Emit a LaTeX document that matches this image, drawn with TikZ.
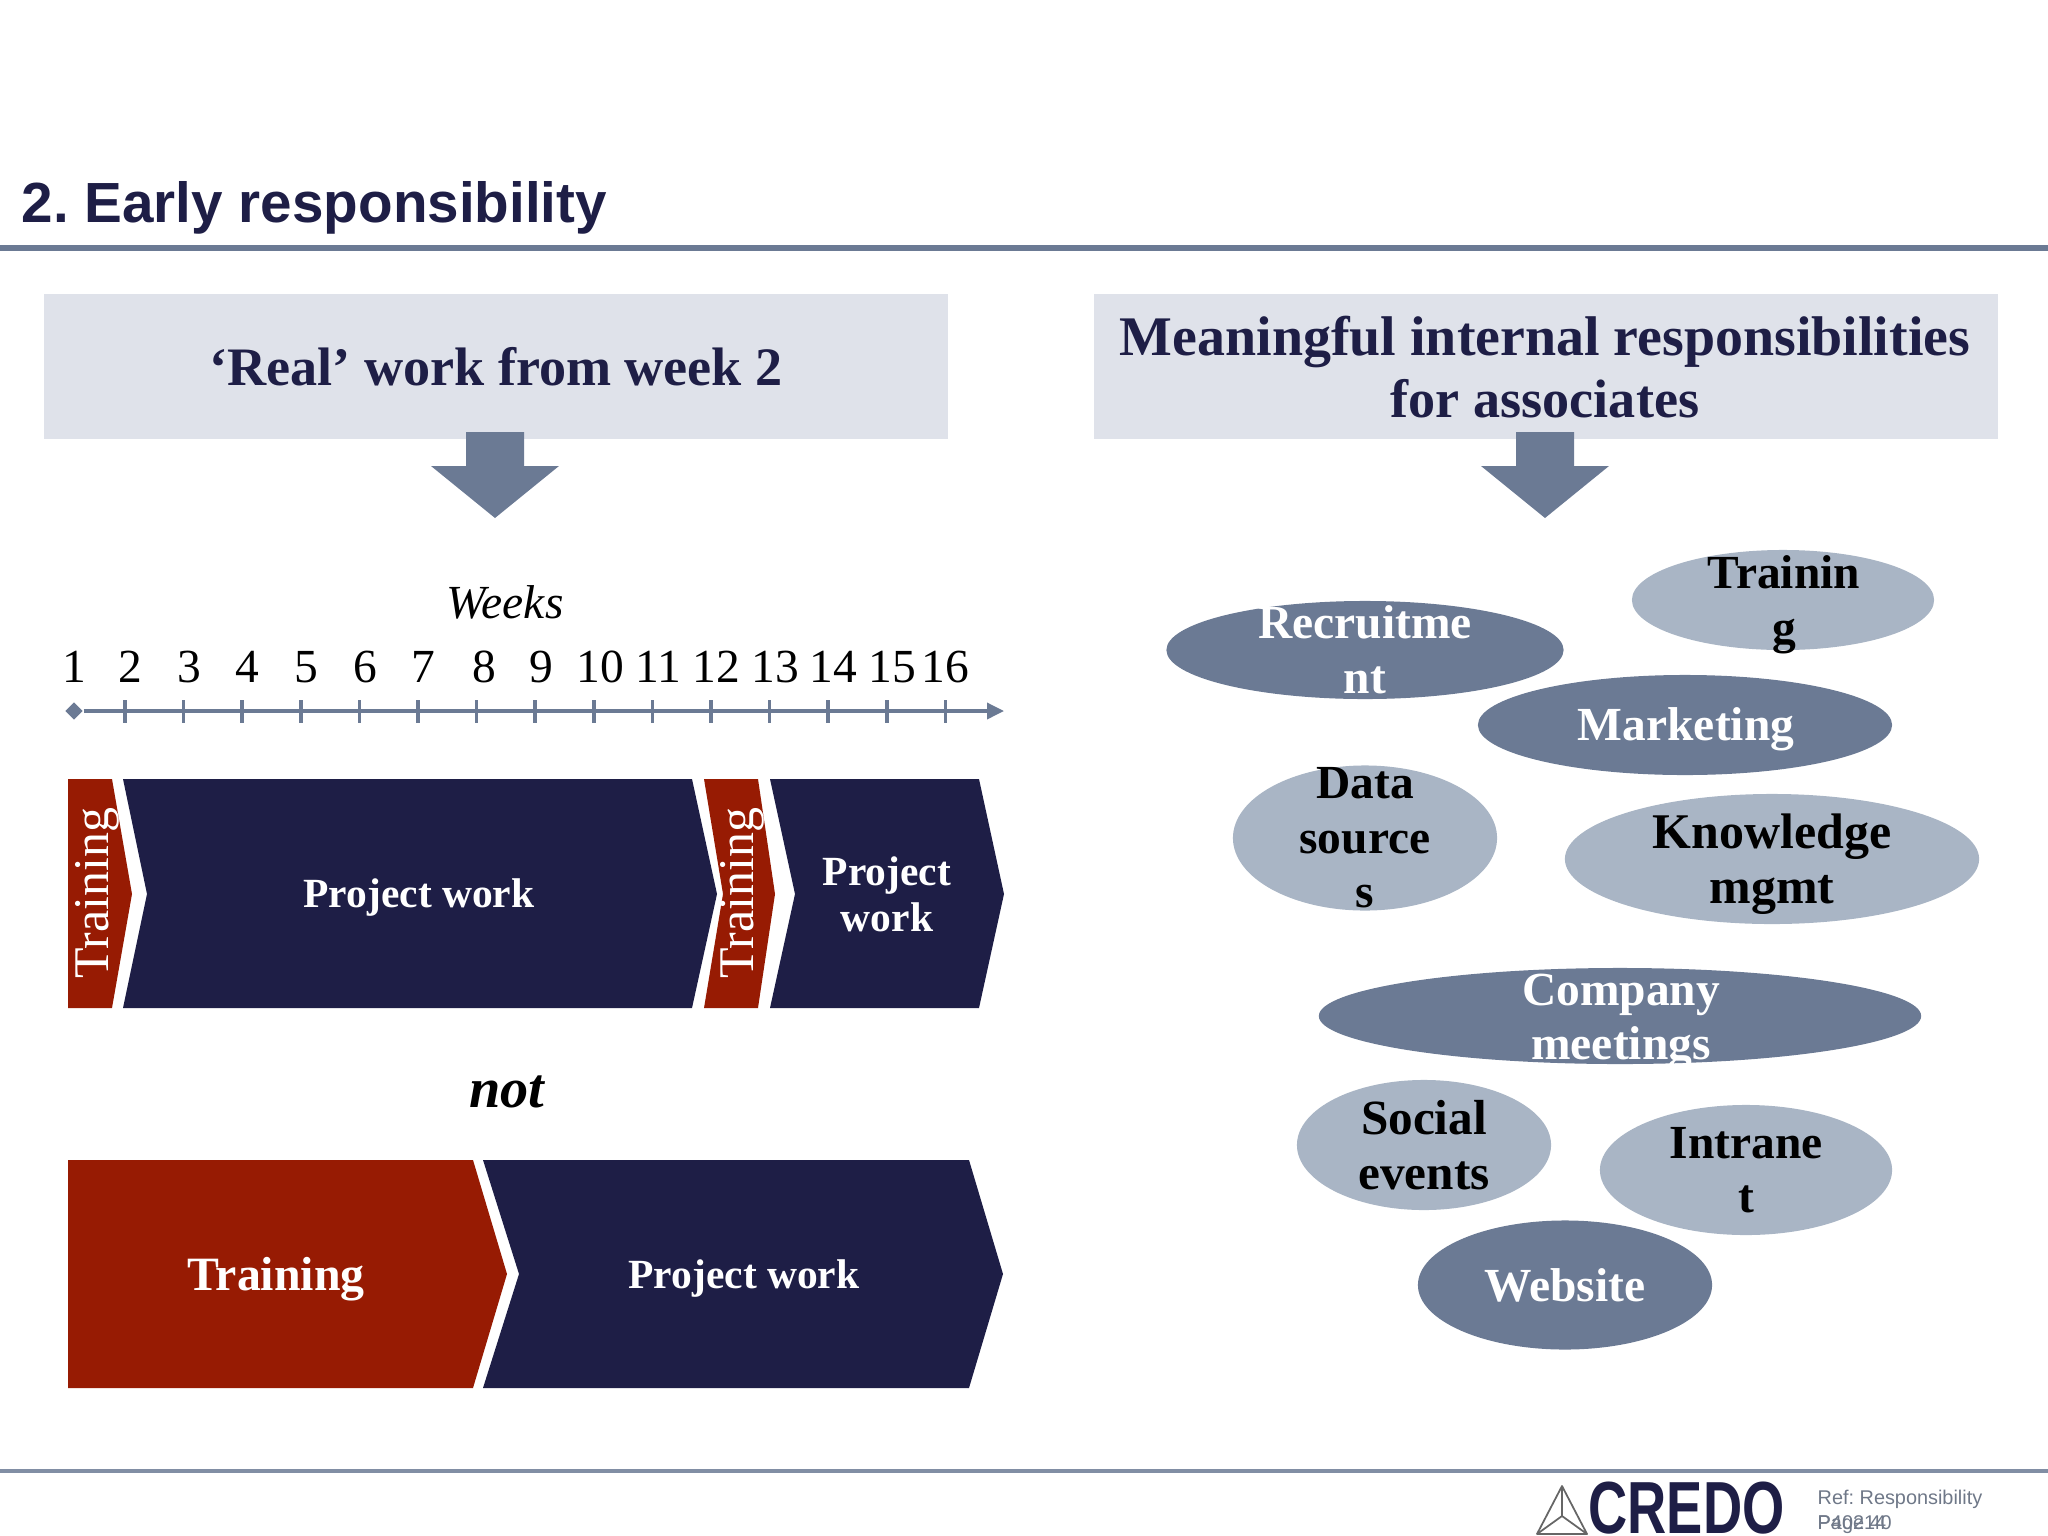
\documentclass[tikz,border=0pt]{standalone}
\usepackage{fontspec}
\setmainfont{Liberation Serif}
\setsansfont{Liberation Sans}
\usetikzlibrary{arrows.meta,shapes.geometric}
\definecolor{navy}{HTML}{1E1E46}
\definecolor{brick}{HTML}{971B03}
\definecolor{slate}{HTML}{6B7A94}
\definecolor{mist}{HTML}{A9B5C5}
\definecolor{pale}{HTML}{DFE2EA}
\definecolor{reftext}{HTML}{6F7888}
\frenchspacing
\begin{document}
\begin{tikzpicture}[x=0.01cm, y=-0.01cm,
    head/.style={font=\bfseries\fontsize{15.4}{14}\selectfont, text=navy, align=center},
    barlabel/.style={font=\bfseries\fontsize{11.8}{13}\selectfont, text=white, align=center},
    trainlabel/.style={font=\fontsize{14.2}{14}\selectfont, text=white, rotate=90},
    blobtext/.style={inner sep=0pt, font=\bfseries\fontsize{13.5}{15.5}\selectfont, align=center},
    blob/.style={ellipse, blobtext, inner sep=-.6cm},
    blobdark/.style={blob, fill=slate, text=white},
    bloblight/.style={blob, fill=mist, text=black},
    num/.style={font=\fontsize{13.5}{14}\selectfont, inner sep=0pt},
    reflabel/.style={font=\sffamily\fontsize{5.65}{6}\selectfont, text=reftext, anchor=base west, inner sep=0pt}]
    \useasboundingbox (0,0) rectangle (2048,1536);

    \node[font=\sffamily\bfseries\fontsize{16.1}{18}\selectfont, text=navy, anchor=base west, inner sep=0pt] (title) at (21,222) {2. Early responsibility};
    \draw[slate, line width=1.8pt] (0,248) -- (2048,248);
    \draw[slate!85!white, line width=.9pt] (0,1471) -- (2048,1471);

    \fill[pale] (44,294) rectangle (948,439);
    \fill[pale] (1094,294) rectangle (1998,439);
    \node[head] (realwork) at (496,367) {‘Real’ work from week 2};
    \node[head] (internal) at (1545,367) {\fontsize{15.9}{14}\selectfont Meaningful internal responsibilities\\[2.3pt]for associates};
    \foreach \c in {495, 1545}
        \fill[slate] (\c-29,432) -- (\c+29,432) -- (\c+29,466) -- (\c+64,466) -- (\c,518) -- (\c-64,466) -- (\c-29,466) -- cycle;

    \node[font=\itshape\fontsize{13.5}{14}\selectfont, inner sep=0pt] (weeks) at (505,602) {Weeks};
    \foreach \x/\n in {74/1, 130/2, 189/3, 247/4, 306/5, 365/6, 423/7, 484/8, 541/9, 600/10, 658/11, 716/12, 775/13, 833/14, 892/15, 945/16}
        \node[num] (n\n) at (\x,667) {\n};

    \node[diamond, fill=slate, inner sep=0pt, minimum size=.18cm] (axisstart) at (74,711) {};
    \coordinate (axisend) at (1004,711);
    \draw[slate, line width=1pt, -{Triangle[length=.17cm,width=.16cm]}] (axisstart) -- (axisend);
    \foreach \i in {0, 1, ..., 14}
        \draw[slate, line width=1pt] (125+58.6*\i,700) -- (125+58.6*\i,723);

    \fill[brick] (68,779) -- (112,779) -- (132,894) -- (112,1008) -- (68,1008) -- cycle;
    \fill[navy] (123,779) -- (692,779) -- (717,894) -- (692,1008) -- (123,1008) -- (147,894) -- cycle;
    \fill[brick] (704,779) -- (758,779) -- (775,894) -- (758,1008) -- (704,1008) -- (723,894) -- cycle;
    \fill[navy] (770,779) -- (979,779) -- (1004,894) -- (979,1008) -- (770,1008) -- (795,894) -- cycle;
    \node[trainlabel] (trainone) at (97,893) {Training};
    \node[barlabel] (projectone) at (419,898) {Project work};
    \node[trainlabel] (traintwo) at (742,893) {Training};
    \node[barlabel] (projecttwo) at (887,894) {Project\\work};

    \node[font=\bfseries\itshape\fontsize{16}{16}\selectfont, inner sep=0pt] (not) at (507,1092) {not};

    \fill[brick] (68,1160) -- (473,1160) -- (507,1274) -- (473,1388) -- (68,1388) -- cycle;
    \fill[navy] (483,1160) -- (969,1160) -- (1003,1274) -- (969,1388) -- (483,1388) -- (519,1274) -- cycle;
    \node[barlabel, font=\bfseries\fontsize{13.6}{14}\selectfont] (trainthree) at (276,1279) {Training};
    \node[barlabel] (projectthree) at (744,1279) {Project work};

    \node[bloblight, minimum width=3.02cm, minimum height=1cm] (training) at (1783,600) {};
    \node[blobtext, text=black] (trainingtext) at (1784,605) {Trainin\\g};
    \node[blobdark, minimum width=3.97cm, minimum height=.98cm] (recruit) at (1365,650) {Recruitme\\nt};
    \node[blobdark, minimum width=4.14cm, minimum height=1cm] (marketing) at (1685,725) {};
    \node[blobtext, text=white] (marketingtext) at (1686,729) {Marketing};
    \node[bloblight, minimum width=2.64cm, minimum height=1.45cm] (data) at (1365,838) {Data\\source\\s};
    \node[bloblight, minimum width=4.14cm, minimum height=1.3cm] (knowledge) at (1772,859) {};
    \node[blobtext, text=black, font=\bfseries\fontsize{14.2}{15.5}\selectfont] (knowledgetext) at (1772,864) {Knowledge\\mgmt};
    \node[blobdark, minimum width=6.02cm, minimum height=.96cm] (company) at (1620,1016) {};
    \node[blobtext, text=white] (companytext) at (1621,1022) {Company\\meetings};
    \node[bloblight, minimum width=2.54cm, minimum height=1.3cm, font=\bfseries\fontsize{14}{15.5}\selectfont] (social) at (1424,1145) {Social\\events};
    \node[bloblight, minimum width=2.92cm, minimum height=1.3cm] (intranet) at (1746,1170) {Intrane\\t};
    \node[blobdark, minimum width=2.94cm, minimum height=1.29cm] (website) at (1565,1285) {Website};

    \draw[black!60, line width=.5pt, line join=round] (1562,1486) -- (1537,1534) -- (1587,1534) -- cycle;
    \foreach \a/\b in {1562/1486, 1537/1534, 1587/1534}
        \draw[black!60, line width=.5pt] (1562,1516) -- (\a,\b);
    \node[font=\sffamily\bfseries\fontsize{21}{24}\selectfont, text=navy, xscale=.735, anchor=base west, inner sep=0pt] (credo) at (1588,1533) {CREDO};
    \node[reflabel] (ref) at (1817,1504) {Ref: Responsibility};
    \node[reflabel] (refcode) at (1817,1529) {P40214};
    \node[reflabel] (page) at (1817,1529) {Page 40};
\end{tikzpicture}
\end{document}
